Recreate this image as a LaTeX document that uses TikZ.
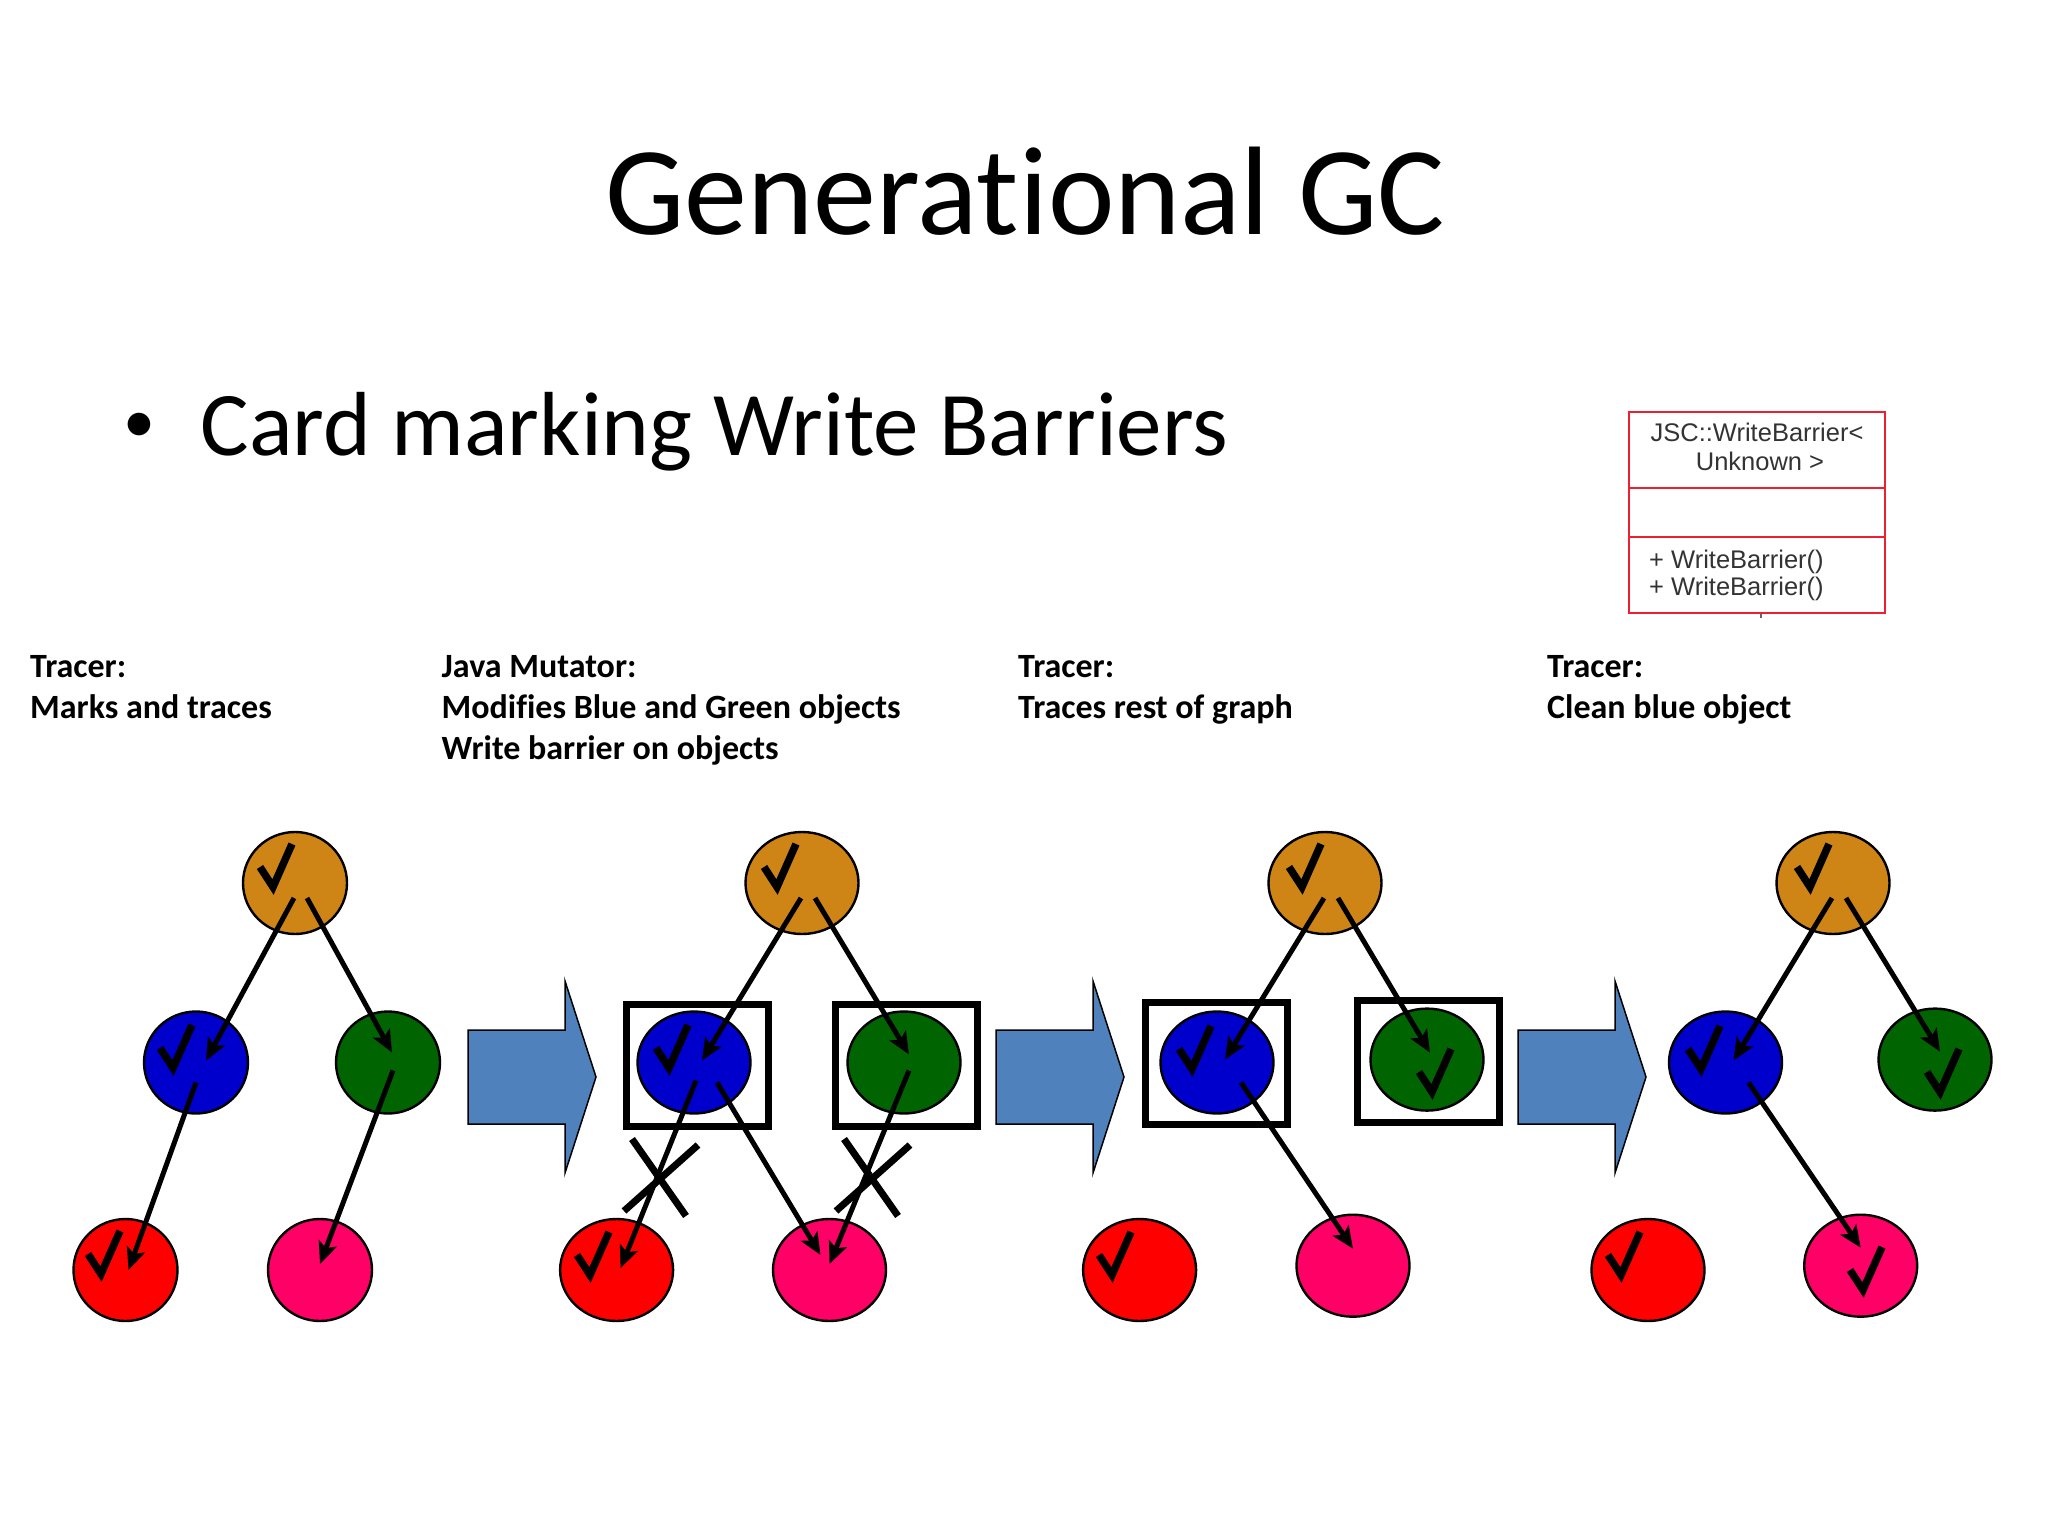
\documentclass[tikz,border=0pt]{standalone}
\usepackage{fontspec}
\setmainfont[Ligatures=NoCommon]{Carlito}
\newfontfamily\umlfont{Liberation Sans}
\usetikzlibrary{shapes.geometric,arrows.meta}
\tikzset{
    every edge/.append style={line width=5pt, -{Stealth[length=22pt,width=19pt,inset=5pt]}}
}
\tikzset{
    obj/.style={ellipse, draw, line width=2.4pt, inner sep=0pt, minimum height=102pt, minimum width=113pt},
    small/.style={minimum width=104pt},
    root/.style={obj, fill=rootcol},
    blueobj/.style={obj, fill=bluecol},
    greenobj/.style={obj, fill=greencol},
    redobj/.style={obj, fill=redcol},
    pinkobj/.style={obj, fill=pinkcol},
    barrier/.style={rectangle, draw, line width=7pt, inner sep=0pt, minimum width=142pt, minimum height=122pt},
    tick/.style={line width=7.5pt, line join=miter},
    strike/.style={line width=7pt},
    block/.style={draw=black, line width=1.5pt, fill=blockcol},
    caption/.style={anchor=base west, inner sep=0pt, align=left, font=\fontsize{34}{41}\selectfont\bfseries},
    umlcell/.style={rectangle, draw=umlred, line width=2.6pt, inner sep=0pt, minimum width=256pt},
    umltext/.style={inner sep=0pt, text=black!80, font=\umlfont\fontsize{25.5}{28}\selectfont}
}
\definecolor{rootcol}{HTML}{CF8516}
\definecolor{bluecol}{HTML}{0000CC}
\definecolor{greencol}{HTML}{006400}
\definecolor{redcol}{HTML}{FF0000}
\definecolor{pinkcol}{HTML}{FF0066}
\definecolor{blockcol}{HTML}{4F81BD}
\definecolor{umlred}{HTML}{EE2030}
\begin{document}
\begin{tikzpicture}[x=1pt, y=-1pt]
  \useasboundingbox (0,0) rectangle (2048,1536);

  % heading
  \node[inner sep=0pt, anchor=base, font=\fontsize{126}{150}\selectfont] (title) at (1025,234) {Generational GC};
  \node[inner sep=0pt, anchor=base, font=\fontsize{64}{70}\selectfont] (bullet) at (139,442) {•};
  \node[inner sep=0pt, anchor=base west, font=\fontsize{91}{100}\selectfont] (sub) at (200.5,455) {Card marking Write Barriers};

  % class box
  \node[umlcell, minimum height=76pt] (uml1) at (1757,450) {};
  \node[umlcell, minimum height=49pt] (uml2) at (1757,512.5) {};
  \node[umlcell, minimum height=76pt] (uml3) at (1757,575) {};
  \node[umltext, anchor=base] (umlname1) at (1757,441) {JSC::WriteBarrier<};
  \node[umltext, anchor=base] (umlname2) at (1760,470) {Unknown >};
  \node[umltext, anchor=base west] (umlop1) at (1649,568) {+ WriteBarrier()};
  \node[umltext, anchor=base west] (umlop2) at (1649,595) {+ WriteBarrier()};
  \coordinate (umlstub) at (1761,618);
  \draw[black!60, line width=1.5pt] (uml3.south -| umlstub) -- (umlstub);

  % captions
  \node[caption] (cap1) at (30,718) {Tracer:\\Marks and traces};
  \node[caption] (cap2) at (441.5,759) {Java Mutator:\\Modifies Blue and Green objects\\Write barrier on objects};
  \node[caption] (cap3) at (1018,718) {Tracer:\\Traces rest of graph};
  \node[caption] (cap4) at (1547,718) {Tracer:\\Clean blue object};

  % step arrows
  \foreach \bx in {468,996,1518}
    \draw[block] (\bx,1030) -- (\bx+97,1030) -- (\bx+97,981) -- (\bx+128,1077)
      -- (\bx+97,1173) -- (\bx+97,1124) -- (\bx,1124) -- cycle;

  % dirty card frames
  \node[barrier] (m2) at (697,1065) {};
  \node[barrier] (n2) at (906,1065) {};
  \node[barrier] (m3) at (1216,1063) {};
  \node[barrier] (n3) at (1428,1061) {};

  % first graph
  \node[root, small] (a1) at (295,883) {};
  \node[blueobj, small] (b1) at (196,1062.5) {};
  \node[greenobj, small] (c1) at (388,1062.5) {};
  \node[redobj, small] (d1) at (125.5,1270) {};
  \node[pinkobj, small] (e1) at (320,1270) {};

  % second graph
  \node[root] (a2) at (802,883) {};
  \node[blueobj] (b2) at (694,1062.5) {};
  \node[greenobj] (c2) at (904,1062.5) {};
  \node[redobj] (d2) at (616.6,1270) {};
  \node[pinkobj] (e2) at (829.5,1270) {};

  % third graph
  \node[root] (a3) at (1325,883) {};
  \node[blueobj] (b3) at (1217,1062.5) {};
  \node[greenobj] (c3) at (1427,1059.6) {};
  \node[redobj] (d3) at (1139.6,1270) {};
  \node[pinkobj] (e3) at (1353,1265.7) {};

  % fourth graph
  \node[root] (a4) at (1833,883) {};
  \node[blueobj] (b4) at (1725.5,1062.5) {};
  \node[greenobj] (c4) at (1935,1059.6) {};
  \node[redobj] (d4) at (1648,1270) {};
  \node[pinkobj] (e4) at (1860.7,1265.7) {};

  % mark ticks, given by the point of the tick
  \foreach \tx/\ty in {273/887, 173/1068, 101/1274,
                       777/887, 669/1068, 590/1275,
                       1302/887, 1192/1069, 1432/1092, 1112/1275,
                       1810/887, 1701/1069, 1940/1092, 1621/1275, 1863/1290}
    \draw[tick] (\tx-13,\ty-20) -- (\tx,\ty) -- (\tx+19,\ty-43);

  \draw ([shift={(-1,15)}]a1.center) edge ([shift={(10,-2)}]b1.center);
  \draw ([shift={(12,15)}]a1.center) edge ([shift={(4,-10)}]c1.center);
  \draw ([shift={(0,20)}]b1.center) edge ([shift={(3,0)}]d1.center);
  \draw ([shift={(5,8)}]c1.center) edge ([shift={(0,-6)}]e1.center);

  \draw ([shift={(-1,15)}]a2.center) edge ([shift={(8,-2)}]b2.center);
  \draw ([shift={(13,15)}]a2.center) edge ([shift={(5,-8)}]c2.center);
  \draw ([shift={(2,18)}]b2.center) edge ([shift={(4,-2)}]d2.center);
  \draw ([shift={(23,20)}]b2.center) edge ([shift={(-9,-15)}]e2.center);
  \draw ([shift={(5,8)}]c2.center) edge ([shift={(0,-6)}]e2.center);

  \draw ([shift={(-1,15)}]a3.center) edge ([shift={(8,-3)}]b3.center);
  \draw ([shift={(13,15)}]a3.center) edge ([shift={(3,-7)}]c3.center);
  \draw ([shift={(24,20)}]b3.center) edge ([shift={(0,-17)}]e3.center);

  \draw ([shift={(-1,15)}]a4.center) edge ([shift={(8,-2)}]b4.center);
  \draw ([shift={(13,15)}]a4.center) edge ([shift={(5,-8)}]c4.center);
  \draw ([shift={(23,20)}]b4.center) edge ([shift={(0,-18)}]e4.center);

  % crossed out references
  \coordinate (x1) at (660,1178);
  \coordinate (x2) at (872,1178);
  \foreach \n in {x1,x2} {
    \draw[strike] ([shift={(-28,-39)}]\n) -- ([shift={(26,38)}]\n);
    \draw[strike] ([shift={(38,-33)}]\n) -- ([shift={(-36,33)}]\n);
  }
\end{tikzpicture}
\end{document}
